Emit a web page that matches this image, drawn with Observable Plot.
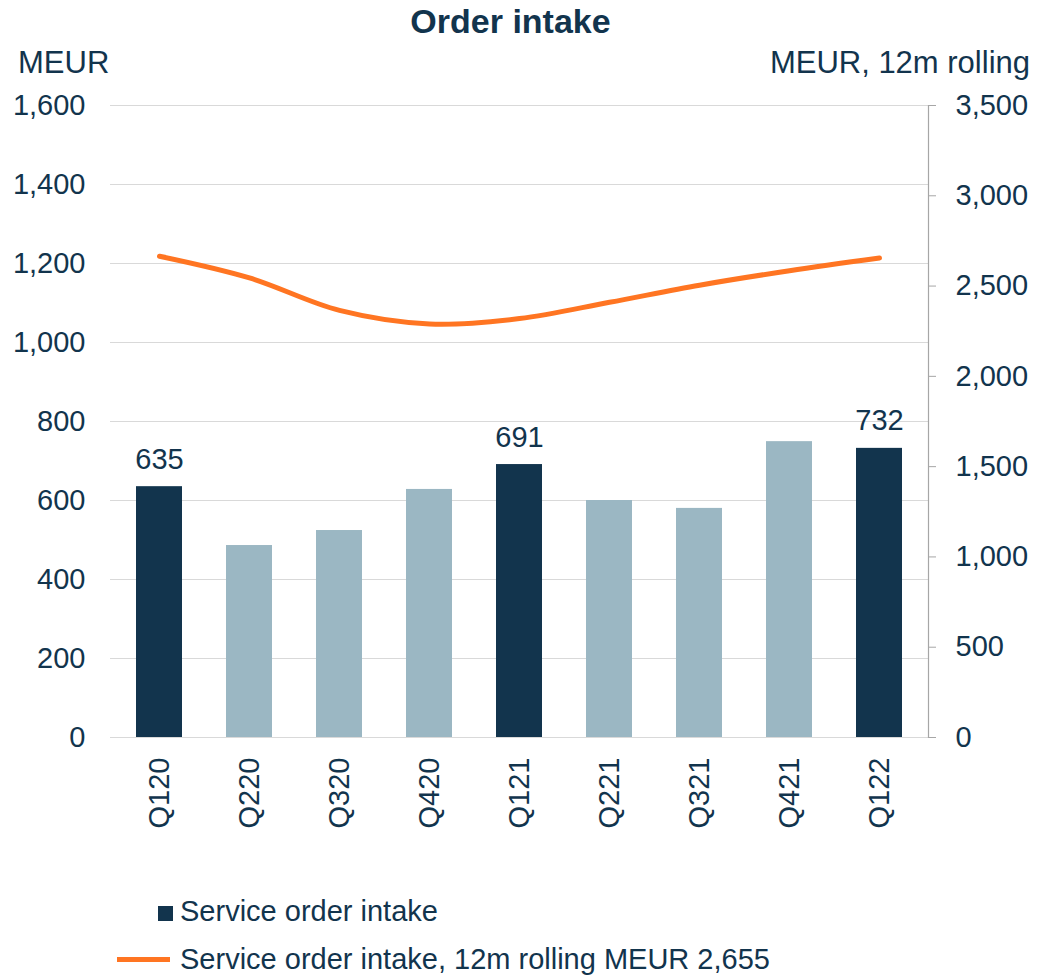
<!DOCTYPE html>
<html>
<head>
<meta charset="utf-8">
<script src="https://cdn.jsdelivr.net/npm/d3@7"></script>
<script src="https://cdn.jsdelivr.net/npm/@observablehq/plot@0.6"></script>
<style>
  html, body { margin: 0; padding: 0; background: #fff; }
  #wrap { position: relative; width: 1038px; height: 975px; font-family: "Liberation Sans", Arial, sans-serif; color: #12344d; overflow: hidden; }
  .abs { position: absolute; line-height: 1; white-space: nowrap; }
  #chart { position: absolute; left: 0; top: 80px; }
</style>
</head>
<body>
<div id="wrap">
  <div class="abs" id="title" style="left:0; width:1021px; text-align:center; top:4px; font-size:34px; font-weight:bold;">Order intake</div>
  <div class="abs" style="left:18px; top:47px; font-size:31px;">MEUR</div>
  <div class="abs" style="right:8px; top:47px; font-size:31px;">MEUR, 12m rolling</div>
  <div id="chart"></div>
  <div class="abs" style="left:158px; top:906px; width:15px; height:15px; background:#12344d;"></div>
  <div class="abs" style="left:180px; top:897px; font-size:29px;">Service order intake</div>
  <div class="abs" style="left:117px; top:957px; width:53px; height:5px; background:#ff7522;"></div>
  <div class="abs" style="left:180px; top:945px; font-size:29px;">Service order intake, 12m rolling MEUR 2,655</div>
</div>
<script>
const quarters = ["Q120","Q220","Q320","Q420","Q121","Q221","Q321","Q421","Q122"];
const orderIntake = [635, 486, 524, 628, 691, 600, 580, 749, 732];
const rolling12m = [2665, 2545, 2365, 2290, 2320, 2410, 2505, 2585, 2655];
const highlighted = ["Q120","Q121","Q122"];
const leftTicks = [0, 200, 400, 600, 800, 1000, 1200, 1400, 1600];
const rightTicks = [0, 500, 1000, 1500, 2000, 2500, 3000, 3500];

const leftMax = 1600, rightMax = 3500;
const toLeft = v => v * leftMax / rightMax;

const bars = quarters.map((q, i) => ({q, v: orderIntake[i], hi: highlighted.includes(q)}));
const line = quarters.map((q, i) => ({q, v: toLeft(rolling12m[i])}));

const chart = Plot.plot({
  width: 1038,
  height: 780,
  marginLeft: 110,
  marginRight: 110,
  marginTop: 25,
  marginBottom: 123,
  style: {fontFamily: "'Liberation Sans', Arial, sans-serif", color: "#12344d", background: "transparent"},
  x: {domain: quarters, paddingInner: 0.49, paddingOuter: 0.245},
  y: {domain: [0, leftMax]},
  marks: [
    Plot.ruleY(leftTicks, {stroke: "#d9d9d9", strokeWidth: 1.2}),
    Plot.barY(bars, {x: "q", y: "v", fill: d => d.hi ? "#12344d" : "#9bb7c3"}),
    Plot.line(line, {x: "q", y: "v", stroke: "#ff7522", strokeWidth: 5, curve: "catmull-rom", strokeLinecap: "round"}),
    Plot.text(bars.filter(d => d.hi), {x: "q", y: "v", text: d => String(d.v), dy: -18, lineAnchor: "bottom", fontSize: 29, fill: "#12344d"}),
    Plot.frame({anchor: "right", stroke: "#a6a6a6", strokeWidth: 1.2}),
    Plot.axisY(leftTicks, {anchor: "left", tickSize: 0, tickPadding: 25, fontSize: 29, label: null, tickFormat: d3.format(","), fill: "#12344d"}),
    Plot.axisY(rightTicks.map(toLeft), {anchor: "right", tickSize: 7, tickPadding: 20, fontSize: 29, label: null, stroke: "#a6a6a6", fill: "#12344d",
      tickFormat: d => d3.format(",")(Math.round(d * rightMax / leftMax))}),
    Plot.axisX({anchor: "bottom", tickSize: 0, tickPadding: 20, tickRotate: -90, fontSize: 29, label: null, fill: "#12344d"})
  ]
});
document.getElementById("chart").appendChild(chart);
</script>
</body>
</html>
